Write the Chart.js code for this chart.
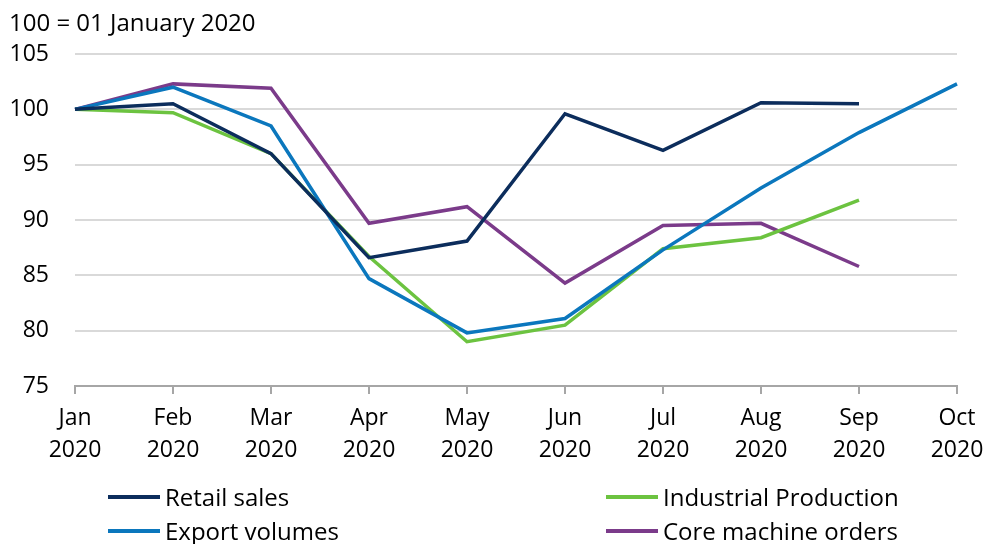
<!DOCTYPE html>
<html>
<head>
<meta charset="utf-8">
<script src="https://cdn.jsdelivr.net/npm/chart.js@4.4.0/dist/chart.umd.min.js"></script>
<style>
  html, body { margin: 0; padding: 0; background: #fff; }
  body { width: 987px; height: 544px; position: relative; overflow: hidden; font-family: "Open Sans", sans-serif; color: #000; }
  #wrap { position: absolute; left: 0; top: 0; width: 987px; height: 544px; }
  #title { position: absolute; left: 9px; top: 5px; font-size: 24px; line-height: 34px; white-space: nowrap; }
  .leg { position: absolute; font-size: 24px; line-height: 30px; white-space: nowrap; display: flex; align-items: center; }
  .leg span.sw { display: inline-block; width: 52px; height: 4px; margin-right: 5px; }
</style>
</head>
<body>
<div id="wrap"><canvas id="c" width="987" height="544"></canvas></div>
<div id="title">100 = 01 January 2020</div>
<div id="legend"></div>
<script>
const categories = [["Jan","2020"],["Feb","2020"],["Mar","2020"],["Apr","2020"],["May","2020"],["Jun","2020"],["Jul","2020"],["Aug","2020"],["Sep","2020"],["Oct","2020"]];
const retailSales = [100, 100.5, 96.0, 86.6, 88.1, 99.6, 96.3, 100.6, 100.5, null];
const industrialProduction = [100, 99.7, 96.0, 86.7, 79.0, 80.5, 87.4, 88.4, 91.8, null];
const exportVolumes = [100, 102.0, 98.5, 84.7, 79.8, 81.1, 87.3, 92.9, 97.9, 102.3];
const coreMachineOrders = [100, 102.3, 101.9, 89.7, 91.2, 84.3, 89.5, 89.7, 85.8, null];
const yTicks = [75, 80, 85, 90, 95, 100, 105];

const series = [
  { label: "Retail sales", data: retailSales, color: "#0c2d5c" },
  { label: "Export volumes", data: exportVolumes, color: "#0b77bd" },
  { label: "Industrial Production", data: industrialProduction, color: "#6cc340" },
  { label: "Core machine orders", data: coreMachineOrders, color: "#7b3b8a" }
];

const legendPos = {
  "Retail sales": [108, 482],
  "Industrial Production": [606, 482],
  "Export volumes": [108, 516],
  "Core machine orders": [606, 516]
};
const legendEl = document.getElementById("legend");
series.forEach(s => {
  const d = document.createElement("div");
  d.className = "leg";
  d.style.left = legendPos[s.label][0] + "px";
  d.style.top = legendPos[s.label][1] + "px";
  d.innerHTML = '<span class="sw" style="background:' + s.color + '"></span>' + s.label;
  legendEl.appendChild(d);
});

const FONT = { family: "'Open Sans', sans-serif", size: 23, lineHeight: 1.4 };

new Chart(document.getElementById("c"), {
  type: "line",
  data: {
    labels: categories,
    datasets: series.map(s => ({
      label: s.label,
      data: s.data,
      borderColor: s.color,
      backgroundColor: s.color,
      borderWidth: 3.5,
      pointRadius: 0,
      tension: 0,
      spanGaps: false,
      fill: false
    }))
  },
  options: {
    responsive: false,
    animation: false,
    devicePixelRatio: 1,
    layout: { padding: { top: 54, left: 0, right: 30, bottom: 58 } },
    plugins: { legend: { display: false }, title: { display: false }, tooltip: { enabled: false } },
    scales: {
      x: {
        type: "category",
        offset: false,
        grid: { display: true, drawOnChartArea: false, drawTicks: true, tickLength: 8, color: "#a6a6a6", lineWidth: 2 },
        border: { display: true, color: "#a6a6a6", width: 2 },
        ticks: { color: "#000", font: FONT, padding: 8, maxRotation: 0, autoSkip: false },
        afterFit: (scale) => { scale.height = 100; scale.paddingRight = 0; scale.paddingLeft = 0; }
      },
      y: {
        min: 75, max: 105,
        afterBuildTicks: (scale) => { scale.ticks = yTicks.map(v => ({ value: v })); },
        grid: { color: "#d9d9d9", lineWidth: 2, drawTicks: false },
        border: { display: false },
        ticks: { color: "#000", font: FONT, padding: 26 },
        afterFit: (scale) => { scale.width = 75; }
      }
    }
  }
});
</script>
</body>
</html>
